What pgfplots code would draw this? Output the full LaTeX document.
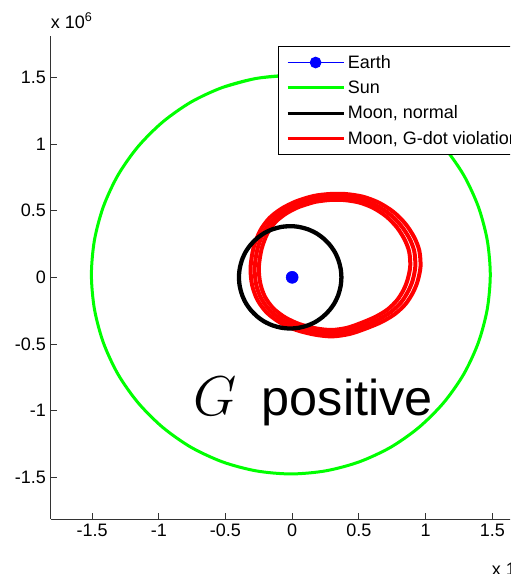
\documentclass[border=0pt]{standalone}
\usepackage{fontspec}
\setmainfont{Liberation Sans}
\usepackage{graphicx}
\usepackage{pgfplots}
\pgfplotsset{compat=1.18}
\begin{document}
\begin{tikzpicture}
\path[use as bounding box, clip] (-38.03pt,-41.25pt) rectangle (344.48pt,389.25pt);
\begin{axis}[
  at={(0pt,0pt)}, anchor=south west,
  scale only axis, width=361.2pt, height=362.2pt,
  xmin=-1.81, xmax=1.8, ymin=-1.813, ymax=1.81,
  axis lines*=left,
  axis line style={black!80, line width=0.6pt},
  every tick/.style={black!80, line width=0.6pt},
  tick align=inside,
  major tick length=4.5pt,
  xtick={-1.5,-1,-0.5,0,0.5,1,1.5},
  ytick={-1.5,-1,-0.5,0,0.5,1,1.5},
  tick label style={font=\fontsize{13.5}{16}\selectfont},
  /pgf/number format/assume math mode=true,
  clip=false,
  legend style={at={(0.4725,0.979)}, anchor=north west, draw=black, line width=0.6pt,
    fill=white, font=\fontsize{13.5}{16}\selectfont, inner xsep=5.5pt, inner ysep=4.3pt, row sep=3.9pt},
  legend cell align=left,
  legend image code/.code={\draw[mark repeat=2,mark phase=2,#1] plot coordinates {(0pt,0pt) (21pt,0pt) (42pt,0pt)};},
]
% Earth (legend)
\addplot[blue, line width=0.75pt, mark=*, mark size=4pt, mark options={fill=blue}] coordinates {(0,0)};
% Sun
\addplot[color={rgb,255:red,0;green,255;blue,0}, line width=2.25pt, smooth] coordinates {
(-0.010,1.515) (-0.270,1.492) (-0.521,1.425)
(-0.758,1.315) (-0.971,1.165) (-1.155,0.981) (-1.305,0.768) (-1.415,0.531) (-1.482,0.280)
(-1.505,0.020) (-1.482,-0.240) (-1.415,-0.491) (-1.305,-0.728) (-1.155,-0.941) (-0.971,-1.125)
(-0.758,-1.275) (-0.521,-1.385) (-0.270,-1.452) (-0.010,-1.475) (0.250,-1.452) (0.501,-1.385)
(0.738,-1.275) (0.951,-1.125) (1.135,-0.941) (1.285,-0.728) (1.395,-0.491) (1.462,-0.240)
(1.485,0.020) (1.462,0.280) (1.395,0.531) (1.285,0.768) (1.135,0.981) (0.951,1.165)
(0.738,1.315) (0.501,1.425) (0.250,1.492) (-0.010,1.515) (-0.270,1.492) (-0.521,1.425)};
\addlegendimage{black, line width=2.4pt}
\addlegendimage{red, line width=2.4pt}
% Moon, G-dot violation (drifting loops)
\addplot[red, line width=3pt, smooth, forget plot] coordinates {
(0.28,0.625) (0.16,0.61) (0.03,0.57) (-0.08,0.515) (-0.17,0.445) (-0.24,0.35) (-0.29,0.22)
(-0.312,0.07) (-0.30,-0.06) (-0.26,-0.17) (-0.19,-0.265) (-0.09,-0.34) (0.03,-0.395) (0.17,-0.43)
(0.30,-0.443) (0.43,-0.425) (0.55,-0.385) (0.67,-0.335) (0.77,-0.275) (0.85,-0.20) (0.905,-0.115)
(0.94,-0.03) (0.962,0.08) (0.953,0.20) (0.915,0.30) (0.85,0.40) (0.76,0.49) (0.65,0.56) (0.53,0.605)
(0.40,0.625) (0.28,0.625) (0.16,0.61) (0.03,0.57)};
\addplot[red, line width=3pt, smooth, forget plot] coordinates {
(0.279,0.603) (0.165,0.588) (0.042,0.550) (-0.062,0.497) (-0.147,0.430) (-0.213,0.340) (-0.260,0.215)
(-0.281,0.072) (-0.270,-0.053) (-0.232,-0.158) (-0.166,-0.249) (-0.071,-0.321) (0.042,-0.373) (0.174,-0.407)
(0.297,-0.419) (0.420,-0.402) (0.534,-0.364) (0.647,-0.316) (0.742,-0.258) (0.817,-0.187) (0.869,-0.105)
(0.903,-0.024) (0.923,0.081) (0.915,0.196) (0.879,0.292) (0.817,0.387) (0.732,0.473) (0.628,0.540) (0.515,0.583)
(0.392,0.603) (0.279,0.603) (0.165,0.588) (0.042,0.550)};
\addplot[red, line width=3pt, smooth, forget plot] coordinates {
(0.277,0.580) (0.171,0.566) (0.055,0.530) (-0.043,0.480) (-0.124,0.416) (-0.186,0.329) (-0.230,0.210)
(-0.250,0.073) (-0.239,-0.045) (-0.204,-0.146) (-0.141,-0.233) (-0.052,-0.301) (0.055,-0.351) (0.179,-0.383)
(0.295,-0.395) (0.411,-0.379) (0.518,-0.342) (0.625,-0.296) (0.714,-0.242) (0.785,-0.173) (0.834,-0.096)
(0.865,-0.018) (0.885,0.083) (0.877,0.192) (0.843,0.283) (0.785,0.375) (0.705,0.457) (0.607,0.521) (0.500,0.562)
(0.384,0.580) (0.277,0.580) (0.171,0.566) (0.055,0.530)};
% Moon, normal
\addplot[black, line width=3.2pt, smooth, forget plot] coordinates {
(-0.015,0.384) (-0.082,0.378) (-0.146,0.361)
(-0.207,0.333) (-0.262,0.294) (-0.309,0.247) (-0.348,0.192) (-0.376,0.131) (-0.393,0.067)
(-0.399,0) (-0.393,-0.067) (-0.376,-0.131) (-0.348,-0.192) (-0.309,-0.247) (-0.262,-0.294)
(-0.207,-0.333) (-0.146,-0.361) (-0.082,-0.378) (-0.015,-0.384) (0.052,-0.378) (0.116,-0.361)
(0.177,-0.333) (0.232,-0.294) (0.279,-0.247) (0.318,-0.192) (0.346,-0.131) (0.363,-0.067)
(0.369,0) (0.363,0.067) (0.346,0.131) (0.318,0.192) (0.279,0.247) (0.232,0.294)
(0.177,0.333) (0.116,0.361) (0.052,0.378) (-0.015,0.384) (-0.082,0.378) (-0.146,0.361)};
% Earth on top
\addplot[blue, only marks, mark=*, mark size=4.5pt, mark options={fill=blue}, forget plot] coordinates {(0,0)};
\legend{Earth,Sun,{Moon, normal},{Moon, G-dot violation}}
\node[anchor=base west, inner sep=0pt, font=\fontsize{13.5}{16}\selectfont] at (rel axis cs:0,1.016) {x 10\textsuperscript{6}};
\node[anchor=base west, inner sep=0pt, font=\fontsize{13.5}{16}\selectfont] at (rel axis cs:0.9155,-0.116) {x 10\textsuperscript{6}};
\node[anchor=base west, inner sep=0pt, font=\Huge] at (axis cs:-0.745,-1.037) {\scalebox{1.69}{$G$}};
\node[anchor=base west, inner sep=0pt, font=\fontsize{37.8}{42}\selectfont] at (axis cs:-0.229,-1.037) {positive};
\end{axis}
\end{tikzpicture}
\end{document}
